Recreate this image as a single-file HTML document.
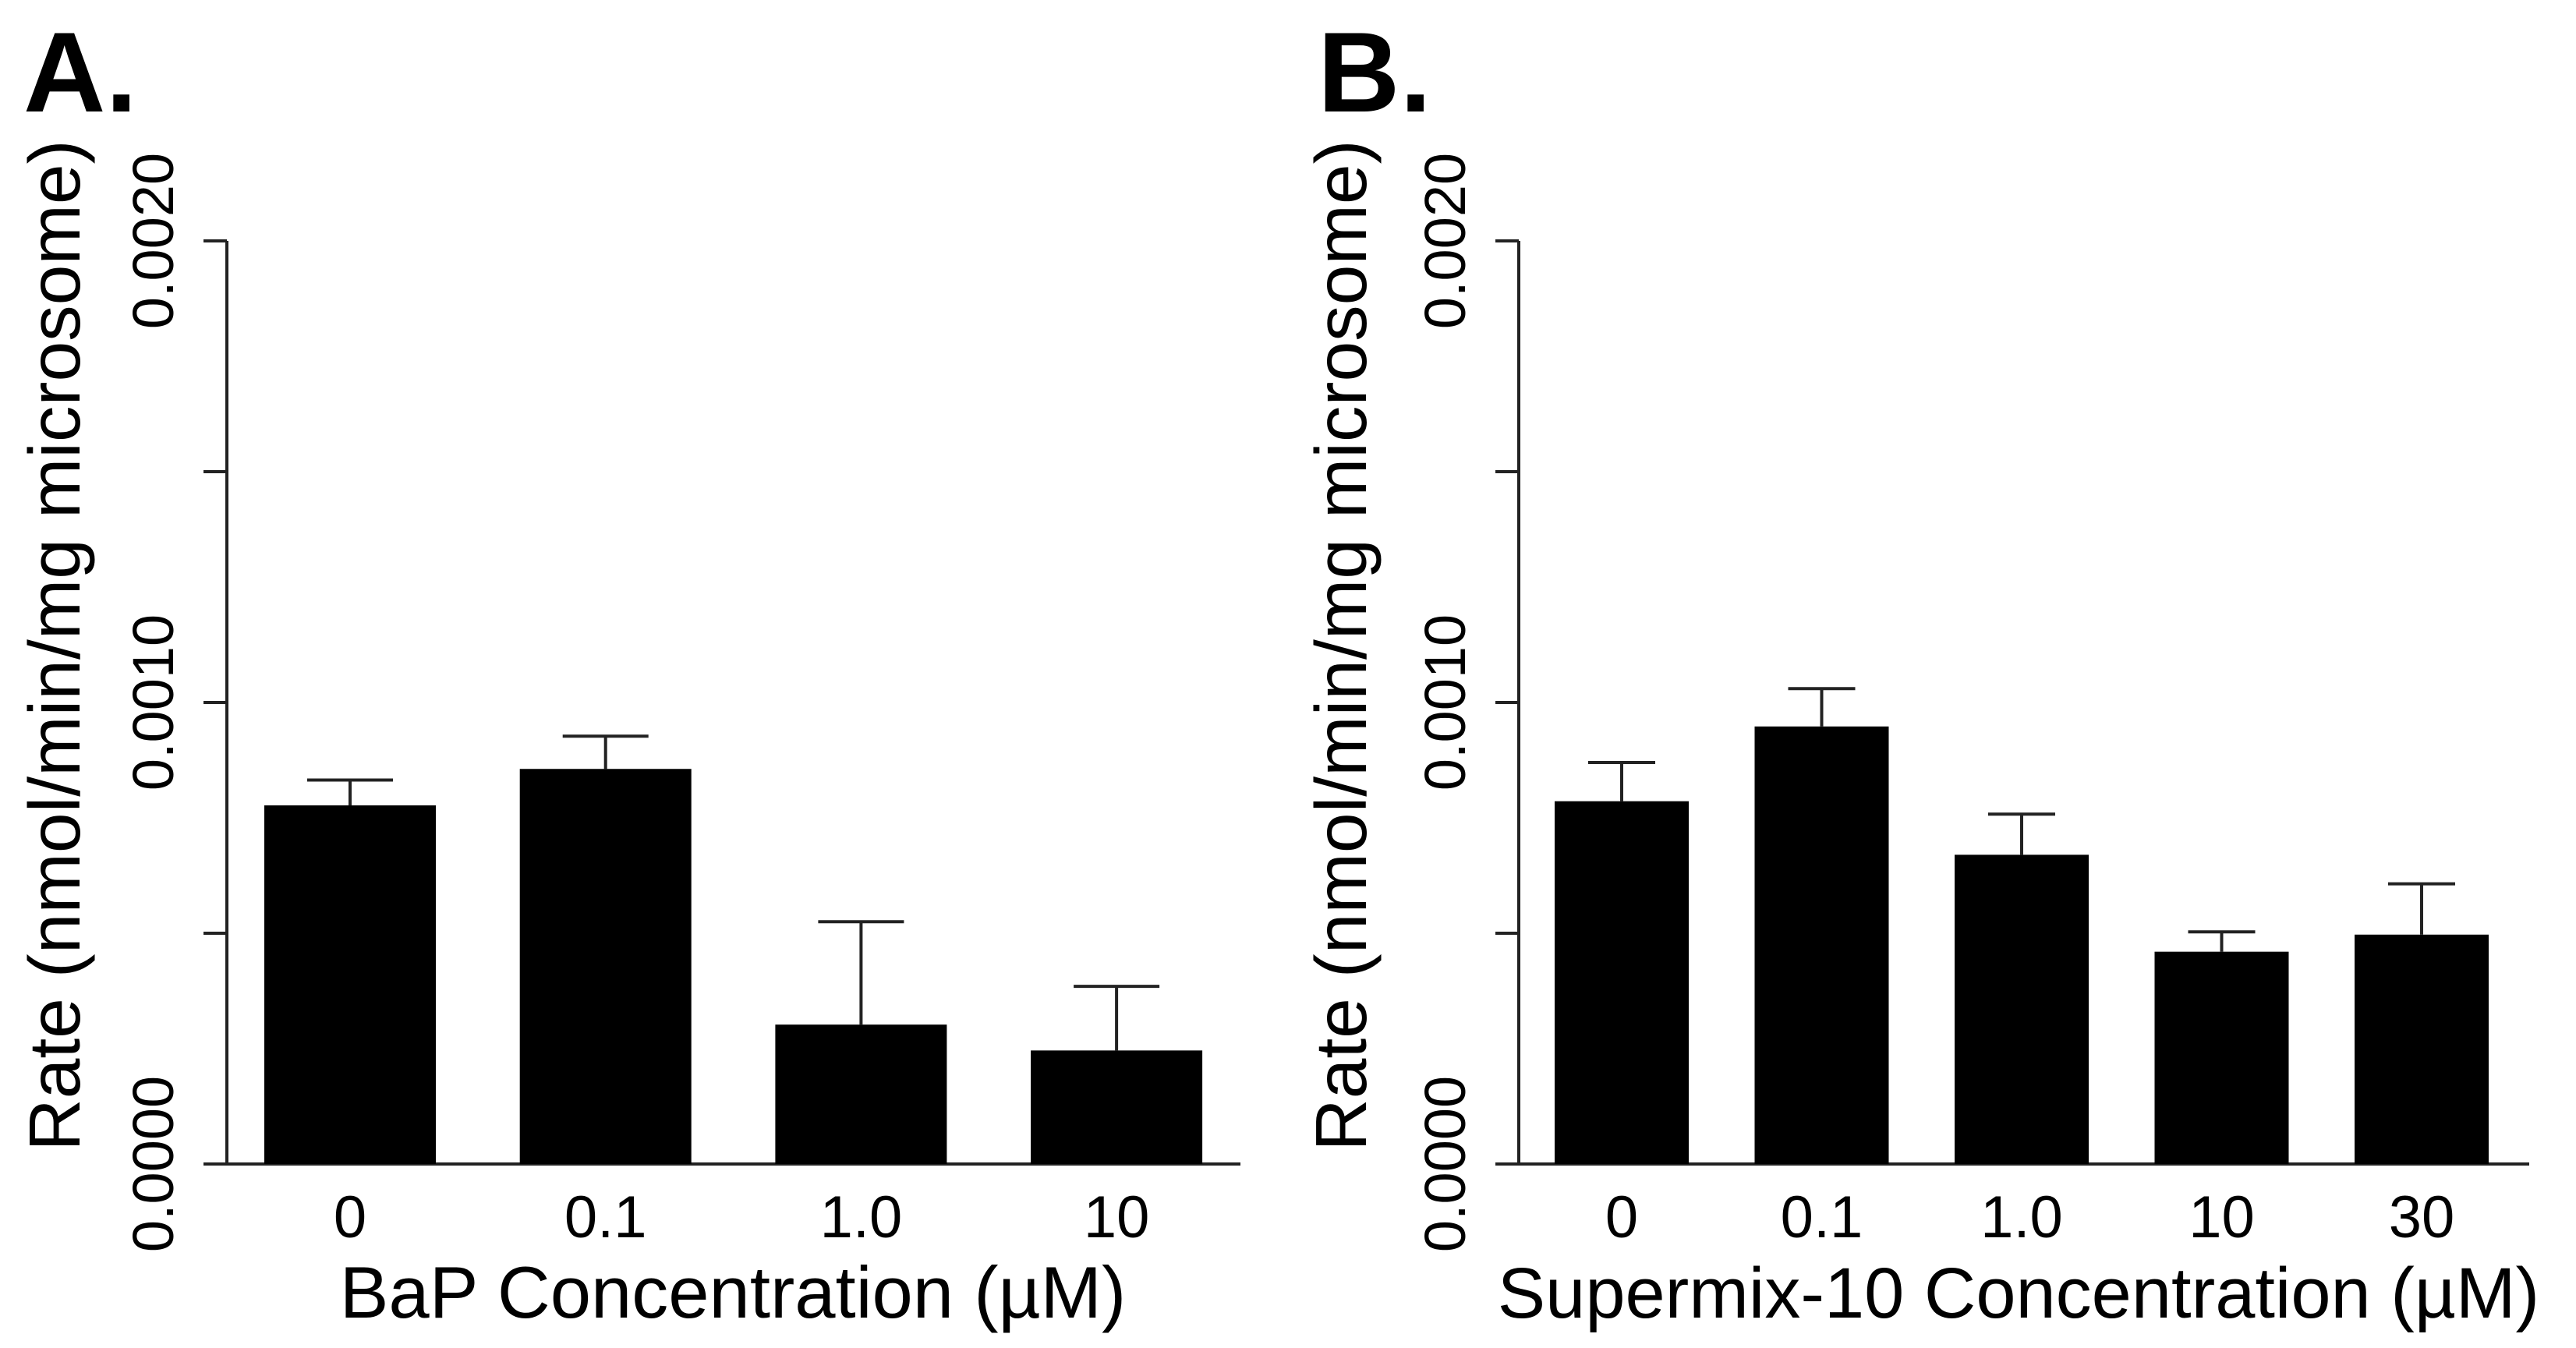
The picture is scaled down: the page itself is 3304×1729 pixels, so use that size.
<!DOCTYPE html>
<html><head><meta charset="utf-8"><style>
html,body{margin:0;padding:0;background:#fff}
svg{display:block}
text{font-family:"Liberation Sans",Arial,sans-serif;fill:#000}
</style></head><body>
<svg id="fig" width="3304" height="1729" viewBox="0 0 3304 1729" xmlns="http://www.w3.org/2000/svg"></svg>
<script>
const catsA = ["0","0.1","1.0","10"];
const valsA = [0.000777, 0.000856, 0.000302, 0.000246];
const errA  = [0.000832, 0.000927, 0.000525, 0.000385];
const catsB = ["0","0.1","1.0","10","30"];
const valsB = [0.000786, 0.000948, 0.000670, 0.000460, 0.000497];
const errB  = [0.000870, 0.001030, 0.000758, 0.000503, 0.000607];
const yTicks = [0, 0.0005, 0.0010, 0.0015, 0.0020];
const yTickLabels = ["0.0000","","0.0010","","0.0020"];

const NS = "http://www.w3.org/2000/svg";
const svg = document.getElementById("fig");
function mk(tag, attrs, parent){
  const e = document.createElementNS(NS, tag);
  for (const k in attrs) e.setAttribute(k, attrs[k]);
  (parent||svg).appendChild(e);
  return e;
}
const y0 = 1493, yTop = 309, yMax = 0.002;
function yScale(v){ return y0 - v / yMax * (y0 - yTop); }

function panel(p){
  const g = mk("g", {});
  
  
  const lw = 4;
  const L = mk("text", {x:p.letterX, y:143, "font-size":146, "font-weight":"bold"}, g);
  L.textContent = p.letter;
  
  
  const ya = mk("line", {x1:p.ax, y1:yTop, x2:p.ax, y2:y0, stroke:"#222", "stroke-width":lw}, g);
  
  
  yTicks.forEach((t,i)=>{
    const yy = yScale(t);
    const tk = mk("line", {x1:p.ax-30, y1:yy, x2:p.ax, y2:yy, stroke:"#222", "stroke-width":lw}, g);
    
    
    if (yTickLabels[i]) {
      const tl = mk("text", {x:0, y:0, "font-size":74, "text-anchor":"middle",
        transform:`translate(${p.ax-69},${yy}) rotate(-90)`}, g);
      tl.textContent = yTickLabels[i];
      
      
    }
  });
  const xa = mk("line", {x1:p.ax-30, y1:y0, x2:p.axEnd, y2:y0, stroke:"#222", "stroke-width":lw}, g);
  
  
  p.cats.forEach((c,i)=>{
    const cx = p.c0 + i * p.step;
    const top = yScale(p.vals[i]);
    const eTop = yScale(p.errs[i]);
    const hw = p.bw * 0.25;
    const el = mk("line", {x1:cx, y1:top, x2:cx, y2:eTop, stroke:"#222", "stroke-width":lw}, g);
    
    
    const cap = mk("line", {x1:cx-hw, y1:eTop, x2:cx+hw, y2:eTop, stroke:"#222", "stroke-width":lw}, g);
    
    
    const b = mk("rect", {x:cx-p.bw/2, y:top, width:p.bw, height:y0-top, fill:"#000"}, g);
    
    
    const t = mk("text", {x:cx, y:1587, "font-size":76, "text-anchor":"middle"}, g);
    t.textContent = c;
    
    
  });
  const xt = mk("text", {x:p.xtX, y:1690, "font-size":p.xfs, "text-anchor":"middle"}, g);
  xt.textContent = p.xTitle;
  
  
  const yt = mk("text", {x:0, y:0, "font-size":93, "text-anchor":"middle",
    transform:`translate(${p.ytX},828) rotate(-90)`}, g);
  yt.textContent = "Rate (nmol/min/mg microsome)";
  
  
}

panel({name:"panel-a", letter:"A.", letterX:30, ax:291, axEnd:1591, c0:449, step:327.7, bw:220,
  cats:catsA, vals:valsA, errs:errA, xTitle:"BaP Concentration (µM)", xtX:940, ytX:102, xfs:94});
panel({name:"panel-b", letter:"B.", letterX:1690, ax:1948, axEnd:3244, c0:2080, step:256.5, bw:172,
  cats:catsB, vals:valsB, errs:errB, xTitle:"Supermix-10 Concentration (µM)", xtX:2589, ytX:1752, xfs:92});
</script>
</body></html>
